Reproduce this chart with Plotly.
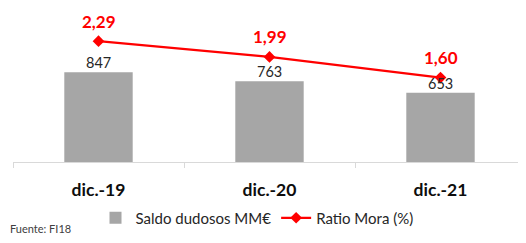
import plotly.graph_objects as go

categories = ["dic.-19", "dic.-20", "dic.-21"]
saldo_dudosos = [847, 763, 653]
ratio_mora = [2.29, 1.99, 1.60]

FONT = "Lato"
OFF = 8  # page body margin
W, H = 518, 235
L, R, T, B = 5, 0, 2, 81
PH = H - B - T
PW = W - L - R


def px(sx):
    return (sx - OFF - L) / PW


def py(sy):
    return (OFF + H - B - sy) / PH


fig = go.Figure()
fig.add_trace(go.Bar(
    x=categories, y=saldo_dudosos, name="Saldo dudosos MM€",
    marker=dict(color="#a6a6a6", line=dict(width=0)),
))
fig.add_trace(go.Scatter(
    x=categories, y=ratio_mora, name="Ratio Mora (%)", yaxis="y2",
    mode="lines+markers",
    line=dict(color="#ff0000", width=2.25),
    marker=dict(symbol="diamond", size=9, color="#ff0000"),
    cliponaxis=False,
))
for c, v in zip(categories, saldo_dudosos):
    fig.add_annotation(
        x=c, y=v, xref="x", yref="y", text=str(v),
        showarrow=False, yshift=9.5, yanchor="middle",
        font=dict(family=FONT, size=14.5, color="#262626"),
    )
for c, v in zip(categories, ratio_mora):
    fig.add_annotation(
        x=c, y=v, xref="x", yref="y2", text=f"{v:.2f}".replace(".", ","),
        showarrow=False, yshift=20,
        font=dict(family=FONT, size=17, color="#ff0000", weight="bold"),
    )

fig.add_annotation(
    x=px(8), y=py(228), xref="paper", yref="paper",
    xanchor="left", yanchor="middle", text="Fuente: FI18", showarrow=False,
    font=dict(family=FONT, size=11, color="#404040"),
)

fig.update_layout(
    width=W, height=H,
    margin=dict(l=L, r=R, t=T, b=B, autoexpand=False),
    paper_bgcolor="white", plot_bgcolor="white",
    bargap=0.6,
    showlegend=True,
    legend=dict(orientation="h", x=px(257), xanchor="center",
                y=py(218), yanchor="middle",
                font=dict(family=FONT, size=15, color="#262626"),
                itemwidth=30, tracegroupgap=0),
    xaxis=dict(showgrid=False, showline=True, linecolor="#d9d9d9", linewidth=1,
               ticks="outside", tickson="boundaries", ticklen=5, tickcolor="#d9d9d9",
               tickfont=dict(family=FONT, size=17.5, color="#0d0d0d", weight="bold"),
               ticklabelstandoff=12,
               range=[-0.5, 2.5], automargin=False),
    yaxis=dict(range=[0, 1435], visible=False, showgrid=False, zeroline=False),
    yaxis2=dict(range=[0, 2.88], visible=False, overlaying="y", side="right",
                showgrid=False, zeroline=False),
)

fig.write_html("out.html")
